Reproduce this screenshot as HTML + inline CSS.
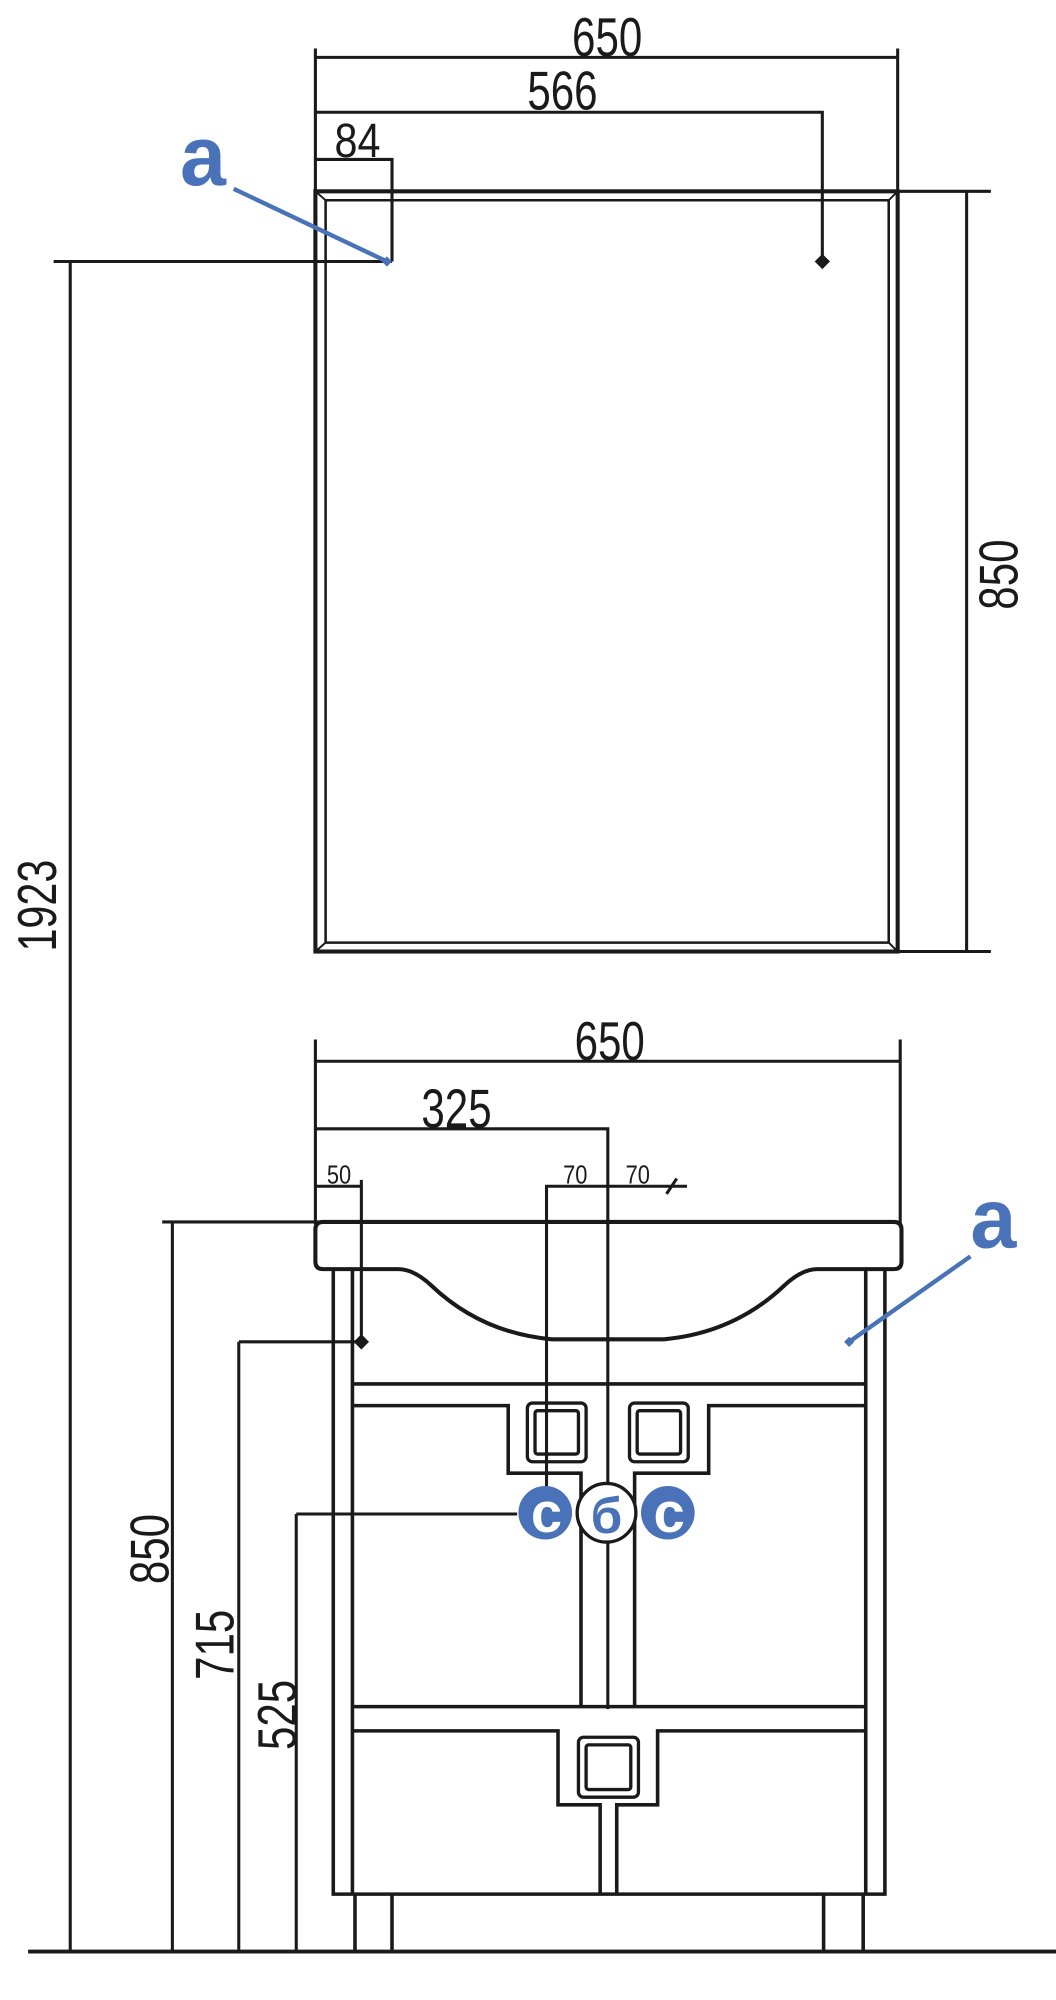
<!DOCTYPE html>
<html><head><meta charset="utf-8"><style>
html,body{margin:0;padding:0;background:#fff;width:1056px;height:2000px;overflow:hidden}
svg{display:block}
text{font-family:"Liberation Sans",sans-serif;fill:#1a1a1a}
</style></head><body>
<svg width="1056" height="2000" viewBox="0 0 827 1568" preserveAspectRatio="none" xmlns="http://www.w3.org/2000/svg">
<g stroke="#1a1a1a" stroke-width="2.4" fill="none">
<path d="M247 38V746M703 38V746M247 45H703"/>
<path d="M247 88H644V205"/>
<path d="M247 125H307V205"/>
<rect x="247" y="150" width="456" height="596" stroke-width="3.2"/>
<path d="M255 157H696V739H255Z" stroke-width="2"/>
<path d="M247 150L255 157M703 150L696 157M247 746L255 739M703 746L696 739" stroke-width="1.5"/>
<path d="M703 150H776M703 746H776M757 150V746"/>
<path d="M42 205H307M55 205V1530"/>
<path d="M22 1530H827" stroke-width="3"/>
<path d="M247 815V960M705 815V960M247 832H705"/>
<path d="M247 885H476V1340"/>
<path d="M247 930H283V1052M283 925V930"/>
<path d="M428 1166V930H538M522 936L530 924" />
<path d="M127 958H250M135 958V1530"/>
<path d="M187 1052H283M187 1052V1530"/>
<path d="M232 1187H405M232 1187V1530"/>
<path d="M253 958H700Q706 958 706 964V989Q706 995 700 995H640Q628 995 614 1008Q575 1045 520 1050H432Q377 1045 338 1008Q324 995 312 995H253Q247 995 247 989V964Q247 958 253 958Z" stroke-width="3.2"/>
<path d="M261 995V1485H693V995M276 995V1485M678 995V1485" stroke-width="2.8"/>
<path d="M276 1085H678M276 1102H398V1155H455V1338M678 1102H555V1155H497V1338" stroke-width="2.8"/>
<path d="M276 1338H678M276 1357H437V1415H470V1485M678 1357H515V1415H483V1485" stroke-width="2.8"/>
<rect x="413" y="1100" width="46" height="46" rx="4" stroke-width="2.6"/>
<rect x="419" y="1106" width="34" height="34" rx="2" stroke-width="2.6"/>
<rect x="493" y="1100" width="46" height="46" rx="4" stroke-width="2.6"/>
<rect x="499" y="1106" width="34" height="34" rx="2" stroke-width="2.6"/>
<rect x="453" y="1362" width="47" height="47" rx="4" stroke-width="2.6"/>
<rect x="459" y="1368" width="35" height="35" rx="2" stroke-width="2.6"/>
<path d="M278 1485V1530M307 1485V1530M645 1485V1530M676 1485V1530" stroke-width="2.8"/>
</g>
<g fill="#1a1a1a">
<path d="M644 199L650 205L644 211L638 205Z"/>
<path d="M283 1046L289 1052L283 1058L277 1052Z"/>
</g>
<g stroke="#4a72b8" stroke-width="3.4" fill="#4a72b8">
<path d="M183 148L303 205" />
<path d="M760 985L665 1052"/>
</g>
<path d="M303 201L307 205L303 209L299 205Z" fill="#4a72b8"/>
<path d="M665 1048L669 1052L665 1056L661 1052Z" fill="#4a72b8"/>
<text x="141" y="145" font-size="66" font-weight="bold" textLength="36" lengthAdjust="spacingAndGlyphs" style="fill:#4a72b8">a</text>
<text x="760" y="978" font-size="66" font-weight="bold" textLength="36" lengthAdjust="spacingAndGlyphs" style="fill:#4a72b8">a</text>
<circle cx="427" cy="1186" r="21" fill="#4a72b8"/>
<circle cx="523" cy="1186" r="21" fill="#4a72b8"/>
<circle cx="475" cy="1186" r="23" fill="#fff" stroke="#1a1a1a" stroke-width="2.6"/>
<text x="428" y="1201" font-size="44" font-weight="bold" text-anchor="middle" style="fill:#fff">c</text>
<text x="524" y="1201" font-size="44" font-weight="bold" text-anchor="middle" style="fill:#fff">c</text>
<text x="475" y="1202" font-size="40" font-weight="bold" text-anchor="middle" style="fill:#4a72b8">б</text>
<text x="448" y="44" font-size="43" textLength="55" lengthAdjust="spacingAndGlyphs">650</text>
<text x="413" y="86" font-size="43" textLength="55" lengthAdjust="spacingAndGlyphs">566</text>
<text x="262" y="123" font-size="38" textLength="36" lengthAdjust="spacingAndGlyphs">84</text>
<text x="450" y="831" font-size="43" textLength="55" lengthAdjust="spacingAndGlyphs">650</text>
<text x="330" y="884" font-size="43" textLength="55" lengthAdjust="spacingAndGlyphs">325</text>
<text x="256" y="928" font-size="20" textLength="19" lengthAdjust="spacingAndGlyphs">50</text>
<text x="441" y="928" font-size="20" textLength="19" lengthAdjust="spacingAndGlyphs">70</text>
<text x="490" y="928" font-size="20" textLength="19" lengthAdjust="spacingAndGlyphs">70</text>
<text transform="translate(797,478) rotate(-90)" font-size="43" textLength="55" lengthAdjust="spacingAndGlyphs">850</text>
<text transform="translate(44,746) rotate(-90)" font-size="43" textLength="72" lengthAdjust="spacingAndGlyphs">1923</text>
<text transform="translate(132,1242) rotate(-90)" font-size="43" textLength="55" lengthAdjust="spacingAndGlyphs">850</text>
<text transform="translate(183,1317) rotate(-90)" font-size="43" textLength="55" lengthAdjust="spacingAndGlyphs">715</text>
<text transform="translate(232,1372) rotate(-90)" font-size="43" textLength="55" lengthAdjust="spacingAndGlyphs">525</text>
</svg>
</body></html>
